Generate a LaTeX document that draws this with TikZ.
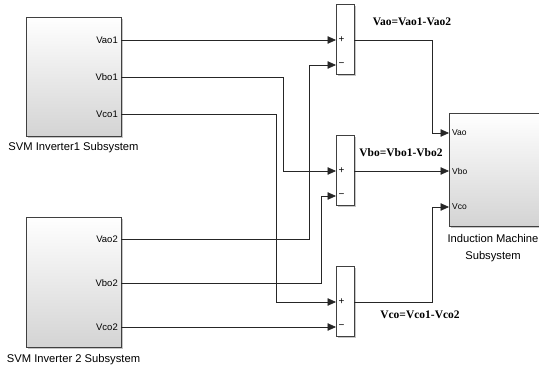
\documentclass[tikz,border=0pt]{standalone}
\usepackage{fontspec}
\setmainfont{Liberation Sans}
\newfontfamily\eqfont{Liberation Serif}
\usetikzlibrary{arrows.meta,shadows,positioning}

\begin{document}
\begin{tikzpicture}[x=1pt, y=-1pt,
    subsys/.style={draw=black!75, line width=0.8pt, top color=white, bottom color=black!17,
      inner sep=0pt, outer sep=0pt,
      drop shadow={shadow xshift=1.8pt, shadow yshift=-1.8pt, opacity=0.45}},
    sumblk/.style={draw=black!75, line width=0.8pt, fill=white, minimum width=18pt,
      minimum height=70pt, inner sep=0pt, outer sep=0pt,
      drop shadow={shadow xshift=1.8pt, shadow yshift=-1.8pt, opacity=0.45}},
    wire/.style={draw=black!85, line width=0.7pt, -{Triangle[length=8.5pt,width=7.5pt]}},
    portlbl/.style={inner sep=0pt, font=\fontsize{9.5}{11}\selectfont},
    import/.style={inner sep=0pt, font=\fontsize{8.5}{10}\selectfont},
    namelbl/.style={inner sep=0pt, font=\fontsize{11.2}{17}\selectfont, align=center},
    eqlbl/.style={inner sep=0pt, font=\eqfont\bfseries\fontsize{11.5}{13}\selectfont},
    sign/.style={inner sep=0pt, font=\fontsize{10}{11}\selectfont}]
  \useasboundingbox (0,0) rectangle (539,370);

  % subsystems
  \node[subsys, minimum width=95pt, minimum height=119pt] (inv1) at (73.5,76.5) {};
  \node[subsys, minimum width=95pt, minimum height=130pt] (inv2) at (73.5,282) {};
  \node[subsys, minimum width=92pt, minimum height=113pt] (im) at (495,169.5) {};
  \node[namelbl, below=6pt of inv1] (inv1name) {SVM Inverter1 Subsystem};
  \node[namelbl, below=7pt of inv2] (inv2name) {SVM Inverter 2 Subsystem};
  \node[namelbl, below=8pt of im, xshift=-2pt] (imname) {Induction Machine\\Subsystem};

  % sum blocks
  \node[sumblk] (sum1) at (345,39) {};
  \node[sumblk] (sum2) at (345,170) {};
  \node[sumblk] (sum3) at (345,301.5) {};

  % ports
  \coordinate (vao1) at (121,40);
  \coordinate (vbo1) at (121,77);
  \coordinate (vco1) at (121,114);
  \coordinate (vao2) at (121,239);
  \coordinate (vbo2) at (121,283);
  \coordinate (vco2) at (121,327);
  \coordinate (s1p) at (336,40);
  \coordinate (s1m) at (336,65);
  \coordinate (s2p) at (336,171);
  \coordinate (s2m) at (336,196);
  \coordinate (s3p) at (336,302);
  \coordinate (s3m) at (336,327);
  \coordinate (s1o) at (354,40);
  \coordinate (s2o) at (354,171);
  \coordinate (s3o) at (354,302);
  \coordinate (ima) at (449,133);
  \coordinate (imb) at (449,171);
  \coordinate (imc) at (449,207);

  \node[portlbl, left=3pt of vao1] (lvao1) {Vao1};
  \node[portlbl, left=3pt of vbo1] (lvbo1) {Vbo1};
  \node[portlbl, left=3pt of vco1] (lvco1) {Vco1};
  \node[portlbl, left=3pt of vao2] (lvao2) {Vao2};
  \node[portlbl, left=3pt of vbo2] (lvbo2) {Vbo2};
  \node[portlbl, left=3pt of vco2] (lvco2) {Vco2};
  \node[import, right=3pt of ima] (lima) {Vao};
  \node[import, right=3pt of imb] (limb) {Vbo};
  \node[import, right=3pt of imc] (limc) {Vco};

  \node[sign, right=2.5pt of s1p] (p1) {+};
  \node[sign, right=2.5pt of s1m] (m1) {−};
  \node[sign, right=2.5pt of s2p] (p2) {+};
  \node[sign, right=2.5pt of s2m] (m2) {−};
  \node[sign, right=2.5pt of s3p] (p3) {+};
  \node[sign, right=2.5pt of s3m] (m3) {−};

  % wiring
  \draw[wire] (vao1) -- (s1p);
  \draw[wire] (vbo1) -- ++(162,0) |- (s2p);
  \draw[wire] (vco1) -- ++(155,0) |- (s3p);
  \draw[wire] (vao2) -- ++(188,0) |- (s1m);
  \draw[wire] (vbo2) -- ++(200,0) |- (s2m);
  \draw[wire] (vco2) -- (s3m);
  \draw[wire] (s1o) -- ++(78,0) |- (ima);
  \draw[wire] (s2o) -- (imb);
  \draw[wire] (s3o) -- ++(78,0) |- (imc);

  % differences
  \node[eqlbl] (eqa) at (412,22) {Vao=Vao1-Vao2};
  \node[eqlbl] (eqb) at (401,153) {Vbo=Vbo1-Vbo2};
  \node[eqlbl] (eqc) at (420,315) {Vco=Vco1-Vco2};
\end{tikzpicture}
\end{document}
